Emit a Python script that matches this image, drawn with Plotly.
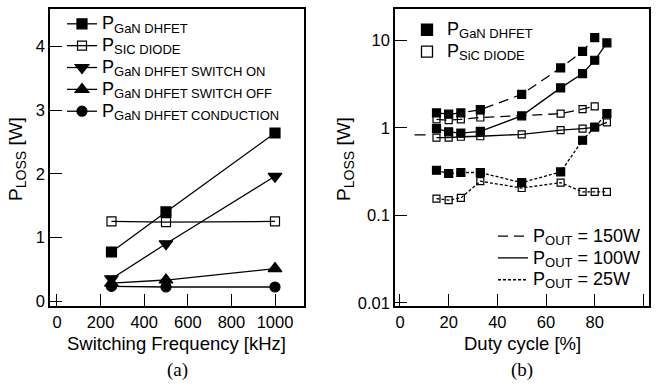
import plotly.graph_objects as go

# ---------------- data: panel (a) ----------------
freq_khz = [250, 500, 1000]
p_gan_dhfet = [0.77, 1.40, 2.64]
p_sic_diode = [1.25, 1.24, 1.25]
p_switch_on = [0.35, 0.90, 1.96]
p_switch_off = [0.28, 0.33, 0.51]
p_conduction = [0.23, 0.22, 0.22]

# ---------------- data: panel (b) ----------------
duty_150 = [15, 20, 25, 33, 50, 66, 75, 80]
gan_150 = [1.48, 1.43, 1.48, 1.61, 2.41, 4.83, 7.48, 10.7]
duty_sic_150 = [15, 20, 25, 33, 66, 75, 80]
sic_150 = [1.25, 1.22, 1.25, 1.31, 1.45, 1.63, 1.76]

duty = [15, 20, 25, 33, 50, 66, 75, 80, 85]
gan_100 = [0.98, 0.90, 0.87, 0.91, 1.37, 2.86, 4.16, 5.91, 9.34]
sic_100 = [0.77, 0.77, 0.79, 0.80, 0.84, 0.94, 0.98, 1.01, 1.15]
gan_25 = [0.327, 0.30, 0.308, 0.308, 0.236, 0.313, 0.72, 1.02, 1.45]
sic_25 = [0.155, 0.149, 0.158, 0.245, 0.205, 0.236, 0.185, 0.185, 0.185]

stray_x = [6, 10.5]
stray_y = [0.83, 0.83]

# tick labels
xa_ticks = [0, 200, 400, 600, 800, 1000]
ya_ticks = [0, 1, 2, 3, 4]
xb_ticks = [0, 20, 40, 60, 80, 100]
yb_ticks = [0.01, 0.1, 1, 10]
yb_labels = ["0.01", "0.1", "1", "10"]

W, H = 657, 387
FONT = "Liberation Sans, Arial, sans-serif"
SERIF = "Liberation Serif, Times New Roman, serif"
LW = 1.3


def px(x):
    return x / W


def py(y):
    return 1 - y / H


def sub(main, s, size=13):
    return f'{main}<sub><span style="font-size:{size}px">{s}</span></sub>'


def big(t, size=18):
    return f'<span style="font-size:{size}px">{t}</span>'


def leg_sub(s, tail=""):
    txt = big("P") + f'<sub><span style="font-size:13px">{s}</span></sub>'
    if tail:
        txt += big(tail)
    return txt


fig = go.Figure()

# ---- panel (a) traces
a_series = [
    (leg_sub("GaN DHFET"), p_gan_dhfet, "square", 10),
    (leg_sub("SIC DIODE"), p_sic_diode, "square-open", 9),
    (leg_sub("GaN DHFET SWITCH ON"), p_switch_on, "triangle-down", 12),
    (leg_sub("GaN DHFET SWITCH OFF"), p_switch_off, "triangle-up", 12),
    (leg_sub("GaN DHFET CONDUCTION"), p_conduction, "circle", 10),
]
for name, ys, sym, sz in a_series:
    fig.add_trace(go.Scatter(
        x=freq_khz, y=ys, name=name, mode="lines+markers",
        line=dict(color="black", width=LW),
        marker=dict(symbol=sym, size=sz, color="black", line=dict(color="black", width=1.2)),
        xaxis="x", yaxis="y", legend="legend",
    ))

# ---- panel (b) traces
DASH150 = "10px,6px"
DASH25 = "3px,2px"
b_series = [
    (duty_150, gan_150, "square", DASH150, 8),
    (duty_sic_150, sic_150, "square-open", DASH150, 7),
    (duty, gan_100, "square", "solid", 8),
    (duty, sic_100, "square-open", "solid", 7),
    (duty, gan_25, "square", DASH25, 8),
    (duty, sic_25, "square-open", DASH25, 7),
]
for xs, ys, sym, dash, sz in b_series:
    fig.add_trace(go.Scatter(
        x=xs, y=ys, mode="lines+markers", showlegend=False,
        line=dict(color="black", width=LW, dash=dash),
        marker=dict(symbol=sym, size=sz, color="black", line=dict(color="black", width=1.2)),
        xaxis="x2", yaxis="y2",
    ))
fig.add_trace(go.Scatter(
    x=stray_x, y=stray_y, mode="lines", showlegend=False,
    line=dict(color="black", width=LW), xaxis="x2", yaxis="y2",
))

# legend 2: device markers
for name, sym in [(leg_sub("GaN DHFET"), "square"), (leg_sub("SiC DIODE"), "square-open")]:
    fig.add_trace(go.Scatter(
        x=[None], y=[None], name=name, mode="markers",
        marker=dict(symbol=sym, size=11, color="black", line=dict(color="black", width=1.3)),
        xaxis="x2", yaxis="y2", legend="legend2",
    ))
# legend 3: line styles
for name, dash in [(leg_sub("OUT", " = 150W"), DASH150), (leg_sub("OUT", " = 100W"), "solid"),
                   (leg_sub("OUT", " = 25W"), DASH25)]:
    fig.add_trace(go.Scatter(
        x=[None], y=[None], name=name, mode="lines",
        line=dict(color="black", width=LW, dash=dash),
        xaxis="x2", yaxis="y2", legend="legend3",
    ))

axis_common = dict(
    showline=True, mirror=True, linecolor="black", linewidth=1.5,
    ticks="inside", ticklen=12, tickwidth=1.3, tickcolor="black",
    showgrid=False, zeroline=False,
    tickfont=dict(family=FONT, size=16.5, color="black"),
)

top_px, bot_px = 9, 310
leg_common = dict(xanchor="left", yanchor="top", bgcolor="rgba(0,0,0,0)",
                  font=dict(family=FONT, size=14.5, color="black"),
                  itemwidth=30, tracegroupgap=0)
fig.update_layout(
    width=W, height=H,
    margin=dict(l=0, r=0, t=0, b=0),
    paper_bgcolor="white", plot_bgcolor="white",
    xaxis=dict(domain=[px(50), px(304)], range=[-32, 1133], tickvals=xa_ticks,
               anchor="y", **axis_common),
    yaxis=dict(domain=[py(bot_px), py(top_px)], range=[-0.078, 4.59], tickvals=ya_ticks,
               anchor="x", **axis_common),
    xaxis2=dict(domain=[px(395), px(649)], range=[-2.05, 102.3], tickvals=xb_ticks,
                anchor="y2", **axis_common),
    yaxis2=dict(domain=[py(bot_px), py(top_px)], type="log", range=[-2.037, 1.359],
                tickvals=yb_ticks, ticktext=yb_labels, anchor="x2", **axis_common),
    legend=dict(x=px(62), y=py(8), **leg_common),
    legend2=dict(x=px(407), y=py(14), **leg_common),
    legend3=dict(x=px(493), y=py(223), **leg_common),
    showlegend=True,
)

ann = [
    dict(text=sub("P", "LOSS", 14) + " [W]", x=px(17), y=py(161), textangle=-90, size=19, fam=FONT),
    dict(text=sub("P", "LOSS", 14) + " [W]", x=px(345), y=py(161), textangle=-90, size=19, fam=FONT),
    dict(text="Switching Frequency [kHz]", x=px(176), y=py(348), textangle=0, size=18.5, fam=FONT),
    dict(text="Duty cycle [%]", x=px(522), y=py(348), textangle=0, size=18.5, fam=FONT),
    dict(text="(a)", x=px(177), y=py(375), textangle=0, size=19, fam=SERIF),
    dict(text="(b)", x=px(522), y=py(375), textangle=0, size=19, fam=SERIF),
]
for a in ann:
    fig.add_annotation(text=a["text"], x=a["x"], y=a["y"], xref="paper", yref="paper",
                       xanchor="center", yanchor="middle", showarrow=False,
                       textangle=a["textangle"],
                       font=dict(family=a["fam"], size=a["size"], color="black"))

fig.write_html("out.html")
